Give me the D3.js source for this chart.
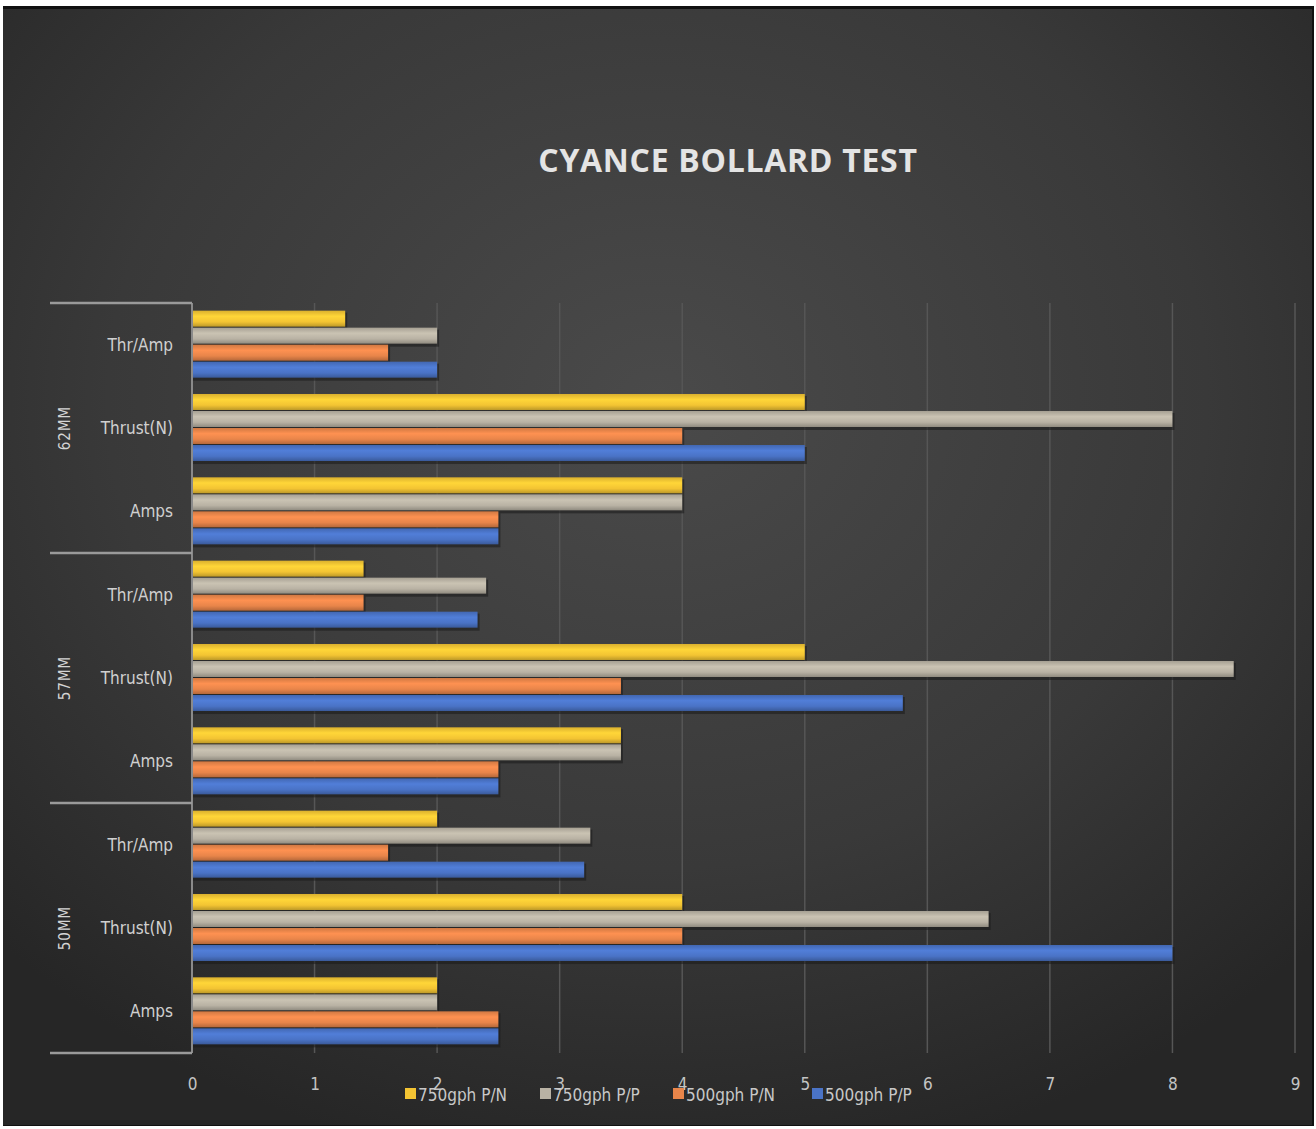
<!DOCTYPE html>
<html>
<head>
<meta charset="utf-8">
<script src="https://cdnjs.cloudflare.com/ajax/libs/d3/7.8.5/d3.min.js"></script>
<style>
  html, body { margin: 0; padding: 0; background: #ffffff; }
  #graphicContainer { width: 1316px; height: 1129px; }
  text { font-family: "Liberation Sans Narrow", "DejaVu Sans Condensed", "Open Sans", sans-serif; }
</style>
</head>
<body>
<div id="graphicContainer"></div>
<script>

// groups (outer axis), categories (inner axis) and series
const groups = ["62MM", "57MM", "50MM"]
const categories = ["Thr/Amp", "Thrust(N)", "Amps"]
const seriesNames = ["750gph P/N", "750gph P/P", "500gph P/N", "500gph P/P"]
const seriesColors = ["#f3c433", "#b9b2a4", "#e8854a", "#4a73c6"]

// values per series, group by group, categories in order Thr/Amp, Thrust(N), Amps
const p750PN = { "62MM": [1.25, 5, 4],   "57MM": [1.4, 5, 3.5],   "50MM": [2, 4, 2] }
const p750PP = { "62MM": [2, 8, 4],      "57MM": [2.4, 8.5, 3.5], "50MM": [3.25, 6.5, 2] }
const p500PN = { "62MM": [1.6, 4, 2.5],  "57MM": [1.4, 3.5, 2.5], "50MM": [1.6, 4, 2.5] }
const p500PP = { "62MM": [2, 5, 2.5],    "57MM": [2.33, 5.8, 2.5], "50MM": [3.2, 8, 2.5] }

const xTicks = [0, 1, 2, 3, 4, 5, 6, 7, 8, 9]

const seriesValues = [p750PN, p750PP, p500PN, p500PP]

const rows = []
groups.forEach(g => {
  categories.forEach((c, ci) => {
    seriesNames.forEach((s, si) => {
      rows.push({ group: g, category: c, series: s, si: si, value: seriesValues[si][g][ci] })
    })
  })
})

const W = 1316, H = 1129
const plot = { left: 192, right: 1295, top: 303, bottom: 1053 }

const svg = d3.select("#graphicContainer")
  .append("svg")
  .attr("width", W)
  .attr("height", H)

const defs = svg.append("defs")

const bg = defs.append("radialGradient")
  .attr("id", "bgGrad")
  .attr("cx", "50%").attr("cy", "35%").attr("r", "70%")
bg.append("stop").attr("offset", "0%").attr("stop-color", "#4a4a4a")
bg.append("stop").attr("offset", "60%").attr("stop-color", "#393939")
bg.append("stop").attr("offset", "100%").attr("stop-color", "#262626")

seriesColors.forEach((c, i) => {
  const g = defs.append("linearGradient")
    .attr("id", "bar" + i)
    .attr("x1", 0).attr("y1", 0).attr("x2", 0).attr("y2", 1)
  g.append("stop").attr("offset", "0%").attr("stop-color", d3.color(c).darker(0.3))
  g.append("stop").attr("offset", "35%").attr("stop-color", d3.color(c).brighter(0.25))
  g.append("stop").attr("offset", "70%").attr("stop-color", c)
  g.append("stop").attr("offset", "100%").attr("stop-color", d3.color(c).darker(0.7))
})

// frame
svg.append("rect")
  .attr("x", 3).attr("y", 6)
  .attr("width", 1311).attr("height", 1120)
  .attr("fill", "#111")
svg.append("rect")
  .attr("x", 3).attr("y", 9)
  .attr("width", 1309).attr("height", 1116)
  .attr("fill", "url(#bgGrad)")

svg.append("text")
  .attr("x", 728)
  .attr("y", 172)
  .attr("text-anchor", "middle")
  .attr("fill", "#e4e4e4")
  .style("font-family", "'Open Sans', sans-serif")
  .style("font-weight", "700")
  .style("font-size", "32px")
  .style("letter-spacing", "0.7px")
  .text("CYANCE BOLLARD TEST")

const x = d3.scaleLinear()
  .domain([0, 9])
  .range([plot.left, plot.right])

const yGroup = d3.scaleBand()
  .domain(groups)
  .range([plot.top, plot.bottom])

const yCat = d3.scaleBand()
  .domain(categories)
  .range([0, yGroup.bandwidth()])

const ySeries = d3.scaleBand()
  .domain(seriesNames)
  .range([0, yCat.bandwidth()])
  .paddingOuter(0.45)

// gridlines
svg.append("g")
  .selectAll("line")
  .data(xTicks.filter(d => d > 0))
  .join("line")
  .attr("x1", d => x(d)).attr("x2", d => x(d))
  .attr("y1", plot.top).attr("y2", plot.bottom)
  .attr("stroke", "#565656")
  .attr("stroke-width", 1.5)

// bars
const barY = d => yGroup(d.group) + yCat(d.category) + ySeries(d.series)

svg.append("g")
  .selectAll("rect.shadow")
  .data(rows)
  .join("rect")
  .attr("class", "shadow")
  .attr("x", x(0))
  .attr("y", d => barY(d) + 2)
  .attr("width", d => x(d.value) - x(0) + 2)
  .attr("height", ySeries.bandwidth())
  .attr("fill", "#1a1a1a")
  .attr("opacity", 0.55)

svg.append("g")
  .selectAll("rect.bar")
  .data(rows)
  .join("rect")
  .attr("class", "bar")
  .attr("x", x(0))
  .attr("y", d => barY(d))
  .attr("width", d => x(d.value) - x(0))
  .attr("height", ySeries.bandwidth() - 1)
  .attr("fill", d => "url(#bar" + d.si + ")")

// vertical axis line
svg.append("line")
  .attr("x1", plot.left).attr("x2", plot.left)
  .attr("y1", plot.top).attr("y2", plot.bottom)
  .attr("stroke", "#8a8a8a")
  .attr("stroke-width", 2)

// group separators
svg.append("g")
  .selectAll("line")
  .data(groups.map(g => yGroup(g)).concat([plot.bottom]))
  .join("line")
  .attr("x1", 50).attr("x2", plot.left)
  .attr("y1", d => d).attr("y2", d => d)
  .attr("stroke", "#9a9a9a")
  .attr("stroke-width", 2.5)

// category labels
const catRows = []
groups.forEach(g => categories.forEach(c => catRows.push({ group: g, category: c })))

svg.append("g")
  .selectAll("text")
  .data(catRows)
  .join("text")
  .attr("x", 173)
  .attr("y", d => yGroup(d.group) + yCat(d.category) + yCat.bandwidth() / 2)
  .attr("dy", "0.35em")
  .attr("text-anchor", "end")
  .attr("fill", "#d0d0d0")
  .style("font-size", "17px")
  .text(d => d.category)

// group labels
svg.append("g")
  .selectAll("text")
  .data(groups)
  .join("text")
  .attr("transform", d => "translate(70," + (yGroup(d) + yGroup.bandwidth() / 2) + ") rotate(-90)")
  .attr("text-anchor", "middle")
  .attr("fill", "#d4d4d4")
  .style("font-size", "15px")
  .style("letter-spacing", "1px")
  .text(d => d)

// x axis ticks
const xAxis = d3.axisBottom(x)
  .tickValues(xTicks)
  .tickSize(0)
  .tickPadding(0)

const xg = svg.append("g")
  .attr("transform", "translate(0,1078)")
  .call(xAxis)
xg.select(".domain").remove()
xg.selectAll("text")
  .attr("fill", "#c4c4c4")
  .style("font-size", "17px")
  .style("font-family", "'Liberation Sans Narrow', 'DejaVu Sans Condensed', sans-serif")

// legend, drawn over the axis labels as in the original
const legendX = [405, 540, 673, 812]
const legend = svg.append("g")
  .selectAll("g")
  .data(seriesNames)
  .join("g")
  .attr("transform", (d, i) => "translate(" + legendX[i] + ",1088)")

legend.append("rect")
  .attr("x", 0).attr("y", 0)
  .attr("width", 11).attr("height", 11)
  .attr("fill", (d, i) => seriesColors[i])

legend.append("text")
  .attr("x", 13)
  .attr("y", 13)
  .attr("fill", "#c8c8c8")
  .style("font-size", "17px")
  .text(d => d)

</script>
</body>
</html>
